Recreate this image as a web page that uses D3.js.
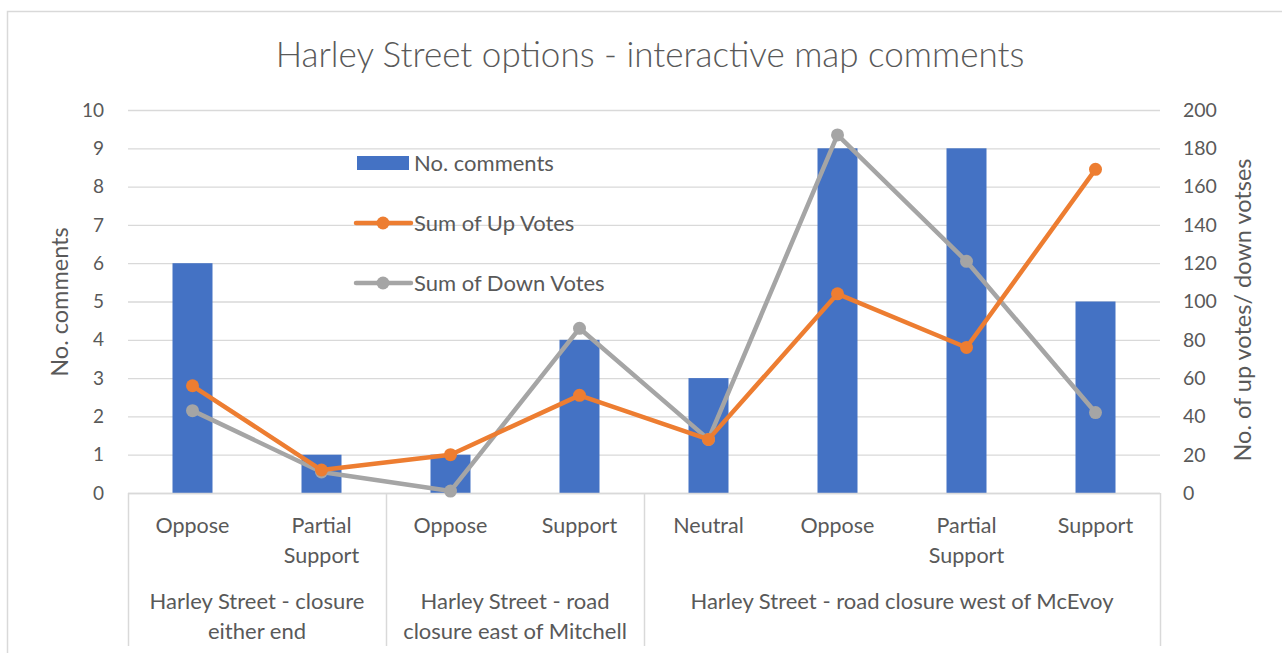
<!DOCTYPE html>
<html>
<head>
<meta charset="utf-8">
<script src="https://cdn.jsdelivr.net/npm/d3@7"></script>
<style>
  body { margin: 0; background: #fff; }
  text { font-family: Lato, "Open Sans", sans-serif; fill: #595959; }
</style>
</head>
<body>
<div id="chart"></div>
<script>
// data
const categories = ["Oppose", "Partial Support", "Oppose", "Support", "Neutral", "Oppose", "Partial Support", "Support"];
const groups = [
    { name: "Harley Street - closure either end", size: 2 },
    { name: "Harley Street - road closure east of Mitchell", size: 2 },
    { name: "Harley Street - road closure west of McEvoy", size: 4 }
];
const comments = [6, 1, 1, 4, 3, 9, 9, 5];
const upVotes = [56, 12, 20, 51, 28, 104, 76, 169];
const downVotes = [43, 11, 1, 86, 28, 187, 121, 42];
const leftTicks = [0, 1, 2, 3, 4, 5, 6, 7, 8, 9, 10];
const rightTicks = [0, 20, 40, 60, 80, 100, 120, 140, 160, 180, 200];

function init() {
    var w = 1282;
    var h = 653;
    var left = 128, right = 1160, top = 110, bottom = 493;

    var barColor = "#4472c4", upColor = "#ed7d31", downColor = "#a5a5a5";
    var gridColor = "#d9d9d9";

    var svg = d3.select("#chart").append("svg")
        .attr("width", w)
        .attr("height", h);

    // outer chart frame
    svg.append("path")
        .attr("d", `M7.5,${h + 2} V11.5 H${w + 2}`)
        .attr("fill", "none")
        .attr("stroke", gridColor)
        .attr("stroke-width", 1.5);

    var x = d3.scaleBand().domain(d3.range(categories.length)).range([left, right]);
    var yL = d3.scaleLinear().domain([0, 10]).range([bottom, top]);
    var yR = d3.scaleLinear().domain([0, 200]).range([bottom, top]);

    // gridlines
    svg.append("g").selectAll("line").data(leftTicks).join("line")
        .attr("x1", left).attr("x2", right)
        .attr("y1", d => yL(d) + 0.5).attr("y2", d => yL(d) + 0.5)
        .attr("stroke", gridColor).attr("stroke-width", 1.3);

    // left axis labels
    svg.append("g").selectAll("text").data(leftTicks).join("text")
        .attr("x", 104).attr("y", d => yL(d))
        .attr("dy", "0.35em")
        .style("text-anchor", "end")
        .style("font-size", "19px")
        .text(d => d);

    // right axis labels
    svg.append("g").selectAll("text").data(rightTicks).join("text")
        .attr("x", 1183).attr("y", d => yR(d))
        .attr("dy", "0.35em")
        .style("text-anchor", "start")
        .style("font-size", "19.5px")
        .text(d => d);

    // bars
    var barW = 40;
    svg.append("g").selectAll("rect").data(comments).join("rect")
        .attr("x", (d, i) => x(i) + x.bandwidth() / 2 - barW / 2)
        .attr("y", d => yL(d))
        .attr("width", barW)
        .attr("height", d => bottom - yL(d))
        .attr("fill", barColor);

    // category axis: baseline and group separators
    svg.append("line")
        .attr("x1", left).attr("x2", right)
        .attr("y1", bottom + 0.5).attr("y2", bottom + 0.5)
        .attr("stroke", gridColor).attr("stroke-width", 1.3);

    var edges = [0];
    groups.forEach(g => edges.push(edges[edges.length - 1] + g.size));
    svg.append("g").selectAll("line").data(edges).join("line")
        .attr("x1", d => (d < categories.length ? x(d) : right) + 0.5)
        .attr("x2", d => (d < categories.length ? x(d) : right) + 0.5)
        .attr("y1", bottom).attr("y2", 646)
        .attr("stroke", gridColor).attr("stroke-width", 1.5);

    // category labels (two lines where they wrap)
    svg.append("g").selectAll("text").data(categories).join("text")
        .attr("x", (d, i) => x(i) + x.bandwidth() / 2)
        .attr("y", 525)
        .style("text-anchor", "middle")
        .style("font-size", "21.5px")
        .each(function (d) {
            var t = d3.select(this);
            d.split(" ").forEach((wd, k) => {
                t.append("tspan")
                    .attr("x", t.attr("x"))
                    .attr("dy", k === 0 ? "0.35em" : "30px")
                    .text(wd);
            });
        });

    // group labels
    var groupLines = [
        ["Harley Street - closure", "either end"],
        ["Harley Street - road", "closure east of Mitchell"],
        ["Harley Street - road closure west of McEvoy"]
    ];
    groups.forEach((g, gi) => {
        var x0 = x(edges[gi]);
        var x1 = edges[gi + 1] < categories.length ? x(edges[gi + 1]) : right;
        var t = svg.append("text")
            .attr("x", (x0 + x1) / 2)
            .attr("y", 601)
            .style("text-anchor", "middle")
            .style("font-size", "22px");
        groupLines[gi].forEach((ln, k) => {
            t.append("tspan")
                .attr("x", (x0 + x1) / 2)
                .attr("dy", k === 0 ? "0.35em" : "30px")
                .text(ln);
        });
    });

    // lines
    var line = d3.line()
        .x((d, i) => x(i) + x.bandwidth() / 2)
        .y(d => yR(d));

    [[downVotes, downColor], [upVotes, upColor]].forEach(([vals, col]) => {
        svg.append("path")
            .datum(vals)
            .attr("d", line)
            .attr("fill", "none")
            .attr("stroke", col)
            .attr("stroke-width", 4.5)
            .attr("stroke-linejoin", "round");
        svg.append("g").selectAll("circle").data(vals).join("circle")
            .attr("cx", (d, i) => x(i) + x.bandwidth() / 2)
            .attr("cy", d => yR(d))
            .attr("r", 6.5)
            .attr("fill", col);
    });

    // title
    svg.append("text")
        .attr("x", 650)
        .attr("y", 55)
        .attr("dy", "0.35em")
        .style("text-anchor", "middle")
        .style("font-size", "35px")
        .style("font-weight", 300)
        .text("Harley Street options - interactive map comments");

    // axis titles
    svg.append("text")
        .attr("transform", "translate(60,302) rotate(-90)")
        .attr("dy", "0.35em")
        .style("text-anchor", "middle")
        .style("font-size", "23.5px")
        .text("No. comments");

    svg.append("text")
        .attr("transform", "translate(1243,310) rotate(-90)")
        .attr("dy", "0.35em")
        .style("text-anchor", "middle")
        .style("font-size", "23.5px")
        .text("No. of up votes/ down votses");

    // legend
    var legend = svg.append("g");
    legend.append("rect")
        .attr("x", 357).attr("y", 156).attr("width", 52).attr("height", 14)
        .attr("fill", barColor);
    legend.append("text")
        .attr("x", 414).attr("y", 163).attr("dy", "0.35em")
        .style("font-size", "22px")
        .text("No. comments");

    [["Sum of Up Votes", upColor, 223], ["Sum of Down Votes", downColor, 283]].forEach(([lab, col, ly]) => {
        legend.append("line")
            .attr("x1", 356).attr("x2", 411).attr("y1", ly).attr("y2", ly)
            .attr("stroke", col).attr("stroke-width", 4.5).attr("stroke-linecap", "round");
        legend.append("circle")
            .attr("cx", 383).attr("cy", ly).attr("r", 6.5).attr("fill", col);
        legend.append("text")
            .attr("x", 414).attr("y", ly).attr("dy", "0.35em")
            .style("font-size", "22px")
            .text(lab);
    });
}

window.onload = init;
</script>
</body>
</html>
